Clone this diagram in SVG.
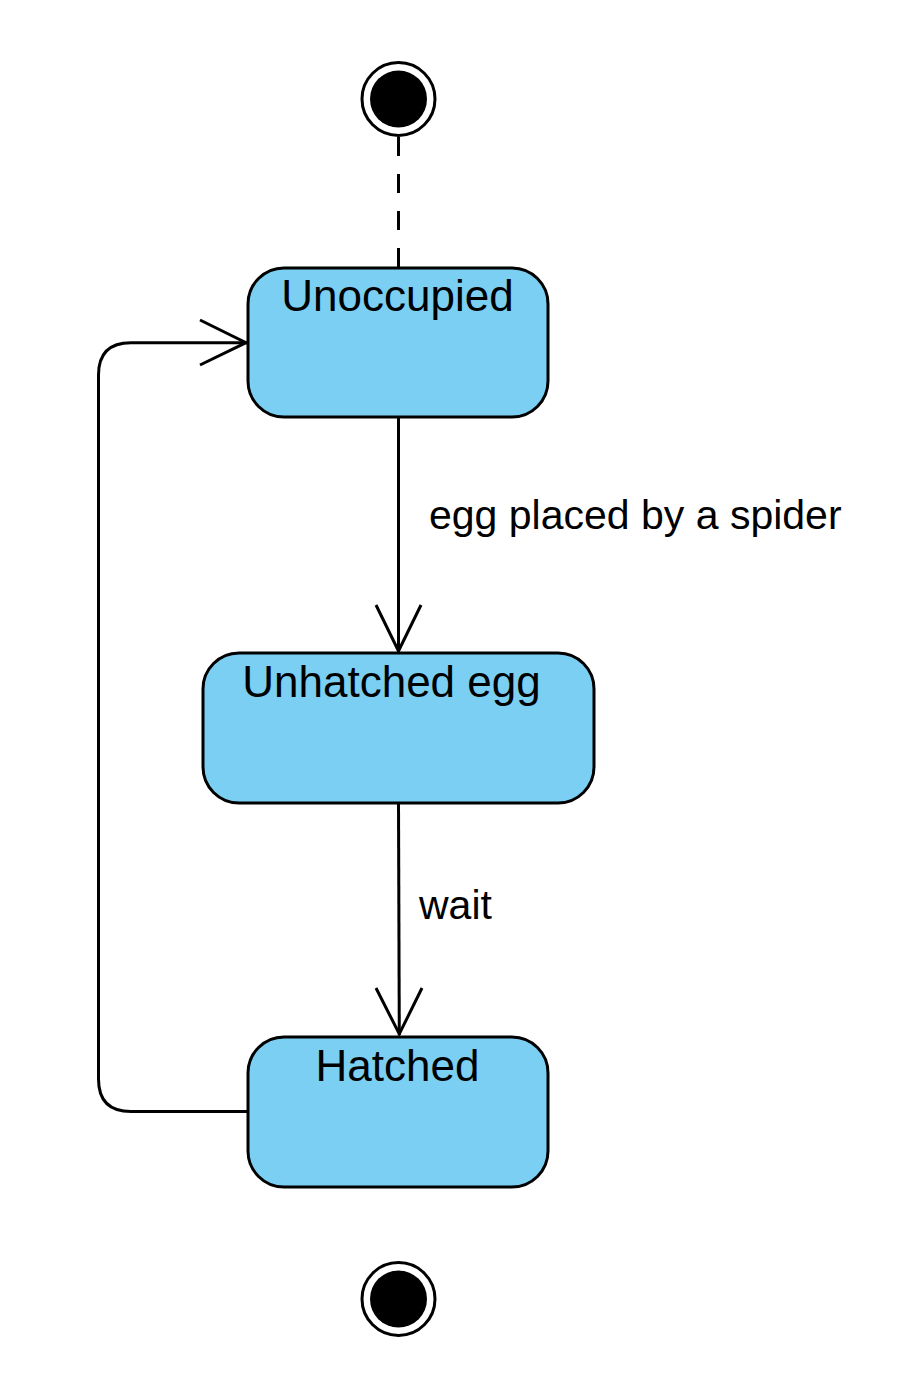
<svg xmlns="http://www.w3.org/2000/svg" width="901" height="1380" viewBox="0 0 901 1380">
<style>
.state{fill:#7acff3;stroke:#000;stroke-width:3}
.st{font-family:"Liberation Sans",Arial,sans-serif;font-size:44px;fill:#000;text-anchor:middle}
.lbl{font-family:"Liberation Sans",Arial,sans-serif;font-size:41px;fill:#000}
.edge{fill:none;stroke:#000;stroke-width:3}
</style>
<rect width="901" height="1380" fill="#fff"/>
<g id="connectors">
<path class="edge" d="M398.5 137 L398.5 267" stroke-dasharray="19 18"/>
<path class="edge" d="M398.5 417 L398.5 652"/>
<path class="edge" d="M376 605 L398.5 651 L421 605"/>
<path class="edge" d="M398.5 803 L399.3 1035"/>
<path class="edge" d="M376 988 L399.3 1034 L422 988"/>
<path class="edge" d="M248 1111.5 L131 1111.5 Q98.5 1111.5 98.5 1079 L98.5 375 Q98.5 342.7 131 342.7 L247 342.7"/>
<path class="edge" d="M200 320 L246 342.7 L200 365"/>
<text class="lbl" x="429" y="529">egg placed by a spider</text>
<text class="lbl" x="419" y="919">wait</text>
</g>
<g id="start">
<circle cx="398.5" cy="99" r="36.5" fill="#fff" stroke="#000" stroke-width="3"/>
<circle cx="398.5" cy="99" r="28.5" fill="#000"/>
</g>
<g id="unoccupied">
<rect class="state" x="248" y="268" width="300" height="149" rx="36"/>
<text class="st" x="397.5" y="311">Unoccupied</text>
</g>
<g id="unhatched">
<rect class="state" x="203" y="653" width="391" height="150" rx="36"/>
<text class="st" x="391.5" y="697">Unhatched egg</text>
</g>
<g id="hatched">
<rect class="state" x="248" y="1037" width="300" height="150" rx="36"/>
<text class="st" x="397.5" y="1081">Hatched</text>
</g>
<g id="end">
<circle cx="398.5" cy="1299" r="36.5" fill="#fff" stroke="#000" stroke-width="3"/>
<circle cx="398.5" cy="1299" r="28.5" fill="#000"/>
</g>
</svg>
